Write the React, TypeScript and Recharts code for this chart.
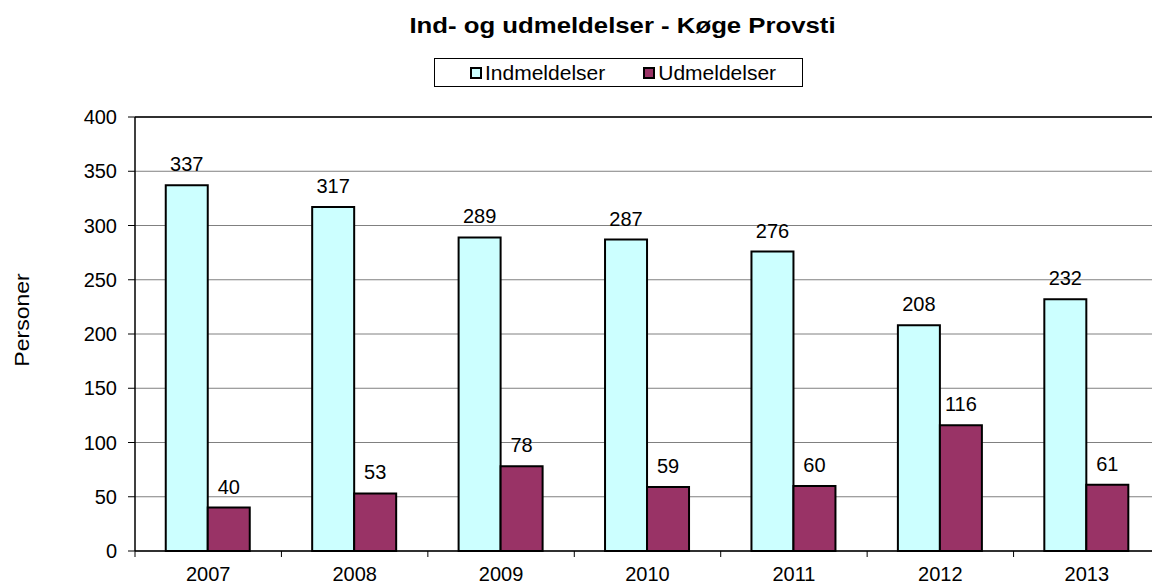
import { BarChart, Bar, XAxis, YAxis, CartesianGrid, LabelList, ReferenceLine } from "recharts";

const years = ["2007", "2008", "2009", "2010", "2011", "2012", "2013"];
const indmeldelser = [337, 317, 289, 287, 276, 208, 232];
const udmeldelser = [40, 53, 78, 59, 60, 116, 61];
const yTicks = [0, 50, 100, 150, 200, 250, 300, 350, 400];

const data = years.map((year, i) => ({
  year,
  ind: indmeldelser[i],
  ud: udmeldelser[i],
}));

const CHART_W = 1170;
const CHART_H = 585;
const LEFT = 135;
const RIGHT = 10;
const HALF_BAND = (CHART_W - LEFT - RIGHT) / years.length / 2;

const font = '"Liberation Sans", Arial, sans-serif';

// year label centred under the group, tick mark on the boundary to the left
const YearTick = (props: any) => {
  const { x, y, payload, index } = props;
  const half = payload?.offset || HALF_BAND;
  return (
    <g>
      <line x1={x - half} x2={x - half} y1={y} y2={y + 6} stroke="#000" />
      {index === years.length - 1 && (
        <line x1={x + half} x2={x + half} y1={y} y2={y + 6} stroke="#000" />
      )}
      <text x={x} y={y + 30} textAnchor="middle" fontSize={20} fill="#000">
        {payload.value}
      </text>
    </g>
  );
};

const LegendItem = ({ color, label }: { color: string; label: string }) => (
  <span style={{ display: "flex", alignItems: "center" }}>
    <span
      style={{
        display: "inline-block",
        width: 8,
        height: 8,
        background: color,
        border: "2px solid #000",
        marginRight: 3,
      }}
    />
    {label}
  </span>
);

export default function App() {
  return (
    <div
      style={{
        position: "fixed",
        left: 0,
        top: 0,
        width: 1152,
        height: 585,
        overflow: "hidden",
        background: "#fff",
        fontFamily: font,
      }}
    >
      <div
        style={{
          position: "absolute",
          top: 13,
          left: 0,
          width: 1245,
          textAlign: "center",
          fontWeight: "bold",
          fontSize: 22,
          color: "#000",
          transform: "scaleX(1.17)",
        }}
      >
        Ind- og udmeldelser - Køge Provsti
      </div>

      <div
        style={{
          position: "absolute",
          left: 434,
          top: 58,
          width: 332,
          height: 27,
          paddingLeft: 35,
          border: "1px solid #000",
          display: "flex",
          alignItems: "center",
          gap: 38,
          fontSize: 21,
          color: "#000",
        }}
      >
        <LegendItem color="#CCFFFF" label="Indmeldelser" />
        <LegendItem color="#993366" label="Udmeldelser" />
      </div>

      <div
        style={{
          position: "absolute",
          left: 22,
          top: 320,
          transform: "translate(-50%, -50%) rotate(-90deg) scaleX(1.15)",
          whiteSpace: "nowrap",
          fontSize: 20,
          color: "#000",
        }}
      >
        Personer
      </div>

      <div style={{ position: "absolute", left: 0, top: 0 }}>
        <BarChart
          width={CHART_W}
          height={CHART_H}
          data={data}
          margin={{ top: 117, right: RIGHT, left: 0, bottom: 0 }}
          barCategoryGap="21%"
          barGap={0}
        >
          <CartesianGrid vertical={false} stroke="#808080" />
          <ReferenceLine y={400} stroke="#000" strokeWidth={1.5} />

          <XAxis
            dataKey="year"
            height={34}
            axisLine={{ stroke: "#000", strokeWidth: 1.5 }}
            tickLine={false}
            tickSize={0}
            tickMargin={0}
            interval={0}
            tick={<YearTick />}
          />
          <YAxis
            width={LEFT}
            domain={[0, 400]}
            ticks={yTicks}
            interval={0}
            axisLine={{ stroke: "#000", strokeWidth: 1.5 }}
            tickLine={{ stroke: "#000" }}
            tickSize={7}
            tickMargin={11}
            tick={{ fill: "#000", fontSize: 20 }}
          />

          <Bar dataKey="ind" name="Indmeldelser" fill="#CCFFFF" stroke="#000" strokeWidth={2} isAnimationActive={false}>
            <LabelList dataKey="ind" position="top" offset={14} fill="#000" fontSize={20} />
          </Bar>
          <Bar dataKey="ud" name="Udmeldelser" fill="#993366" stroke="#000" strokeWidth={2} isAnimationActive={false}>
            <LabelList dataKey="ud" position="top" offset={14} fill="#000" fontSize={20} />
          </Bar>
        </BarChart>
      </div>
    </div>
  );
}
